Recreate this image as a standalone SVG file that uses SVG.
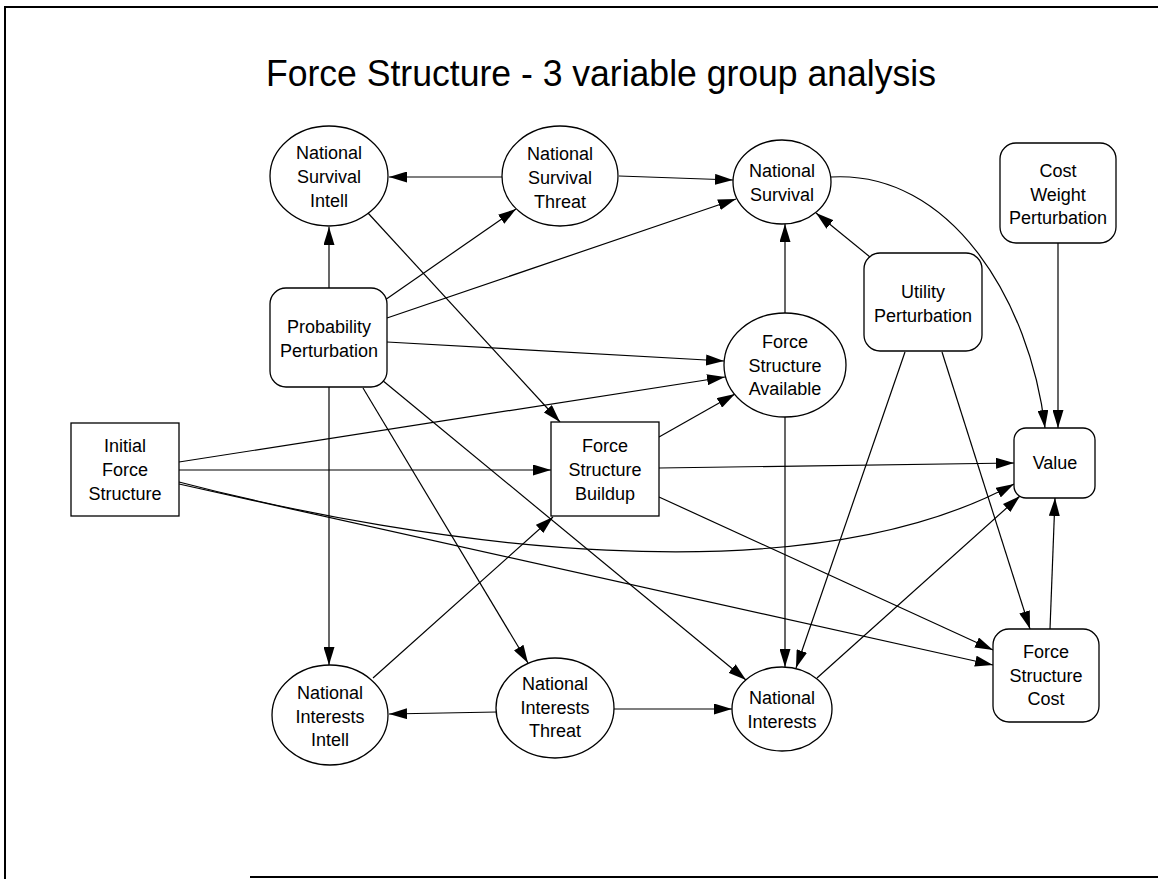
<svg xmlns="http://www.w3.org/2000/svg" width="1158" height="879" viewBox="0 0 1158 879">
<style>
.n{fill:#fff;stroke:#000;stroke-width:1.3}
.t{font-family:"Liberation Sans",Arial,sans-serif;font-size:18px;fill:#000;text-anchor:middle}
.e{fill:none;stroke:#000;stroke-width:1.2;marker-end:url(#a)}
.b{fill:none;stroke:#000;stroke-width:2}
</style>
<defs>
<marker id="a" markerUnits="userSpaceOnUse" markerWidth="18" markerHeight="11" viewBox="0 0 18 11" refX="18" refY="5.5" orient="auto">
<path d="M0,0 L18,5.5 L0,11 z" fill="#000"/>
</marker>
</defs>
<rect width="1158" height="879" fill="#fff"/>
<g id="border">
<path class="b" d="M5,879 L5,7 L1158,7"/>
<path class="b" d="M250,877 L1158,877"/>
</g>
<text x="601" y="86" font-family="Liberation Sans,Arial,sans-serif" font-size="37" text-anchor="middle" textLength="670" lengthAdjust="spacingAndGlyphs">Force Structure - 3 variable group analysis</text>
<g id="edges">
<path class="e" d="M502,177 L389,177"/>
<path class="e" d="M619,176 L733,180"/>
<path class="e" d="M329,288 L329,227"/>
<path class="e" d="M385,300 L516,209"/>
<path class="e" d="M387,318 L736,199"/>
<path class="e" d="M387,342 L724,361"/>
<path class="e" d="M329,387 L329,665"/>
<path class="e" d="M363,388 L528,663"/>
<path class="e" d="M382,380 L746,680"/>
<path class="e" d="M368,213 L560,422"/>
<path class="e" d="M179,462 L725,377"/>
<path class="e" d="M179,470 L551,470"/>
<path class="e" d="M179,482 C420,545 800,600 1014,484"/>
<path class="e" d="M179,484 L993,665"/>
<path class="e" d="M659,437 L735,394"/>
<path class="e" d="M659,468 L1014,463"/>
<path class="e" d="M659,497 L993,650"/>
<path class="e" d="M373,678 L553,517"/>
<path class="e" d="M497,712 L389,714"/>
<path class="e" d="M613,709 L732,709"/>
<path class="e" d="M785,313 L785,224"/>
<path class="e" d="M785,417 L785,667"/>
<path class="e" d="M870,257 L816,213"/>
<path class="e" d="M905,352 L796,668"/>
<path class="e" d="M942,352 L1030,629"/>
<path class="e" d="M831,177 C950,170 1030,300 1045,428"/>
<path class="e" d="M1058,243 L1058,428"/>
<path class="e" d="M817,678 L1020,496"/>
<path class="e" d="M1050,629 L1055,498"/>
</g>
<g id="nsi"><ellipse class="n" cx="329" cy="176" rx="59" ry="50"/><text class="t"><tspan x="329" y="159">National</tspan><tspan x="329" y="183">Survival</tspan><tspan x="329" y="207">Intell</tspan></text></g>
<g id="nst"><ellipse class="n" cx="560" cy="176" rx="58" ry="50"/><text class="t"><tspan x="560" y="160">National</tspan><tspan x="560" y="184">Survival</tspan><tspan x="560" y="208">Threat</tspan></text></g>
<g id="ns"><ellipse class="n" cx="782" cy="182" rx="49" ry="42"/><text class="t"><tspan x="782" y="177">National</tspan><tspan x="782" y="201">Survival</tspan></text></g>
<g id="cwp"><rect class="n" x="1000" y="143" width="116" height="100" rx="16"/><text class="t"><tspan x="1058" y="177">Cost</tspan><tspan x="1058" y="201">Weight</tspan><tspan x="1058" y="224">Perturbation</tspan></text></g>
<g id="pp"><rect class="n" x="270" y="288" width="117" height="99" rx="16"/><text class="t"><tspan x="329" y="333">Probability</tspan><tspan x="329" y="357">Perturbation</tspan></text></g>
<g id="up"><rect class="n" x="864" y="253" width="118" height="98" rx="16"/><text class="t"><tspan x="923" y="298">Utility</tspan><tspan x="923" y="322">Perturbation</tspan></text></g>
<g id="fsa"><ellipse class="n" cx="785" cy="365" rx="61" ry="52"/><text class="t"><tspan x="785" y="348">Force</tspan><tspan x="785" y="372">Structure</tspan><tspan x="785" y="395">Available</tspan></text></g>
<g id="ifs"><rect class="n" x="71" y="423" width="108" height="93"/><text class="t"><tspan x="125" y="452">Initial</tspan><tspan x="125" y="476">Force</tspan><tspan x="125" y="500">Structure</tspan></text></g>
<g id="fsb"><rect class="n" x="551" y="422" width="108" height="94"/><text class="t"><tspan x="605" y="452">Force</tspan><tspan x="605" y="476">Structure</tspan><tspan x="605" y="500">Buildup</tspan></text></g>
<g id="value"><rect class="n" x="1014" y="428" width="81" height="70" rx="12"/><text class="t" x="1055" y="469">Value</text></g>
<g id="nii"><ellipse class="n" cx="330" cy="715" rx="58" ry="50"/><text class="t"><tspan x="330" y="699">National</tspan><tspan x="330" y="723">Interests</tspan><tspan x="330" y="746">Intell</tspan></text></g>
<g id="nit"><ellipse class="n" cx="555" cy="708" rx="59" ry="50"/><text class="t"><tspan x="555" y="690">National</tspan><tspan x="555" y="714">Interests</tspan><tspan x="555" y="737">Threat</tspan></text></g>
<g id="ni"><ellipse class="n" cx="782" cy="709" rx="50" ry="42"/><text class="t"><tspan x="782" y="704">National</tspan><tspan x="782" y="728">Interests</tspan></text></g>
<g id="fsc"><rect class="n" x="993" y="629" width="106" height="93" rx="16"/><text class="t"><tspan x="1046" y="658">Force</tspan><tspan x="1046" y="682">Structure</tspan><tspan x="1046" y="705">Cost</tspan></text></g>
</svg>
